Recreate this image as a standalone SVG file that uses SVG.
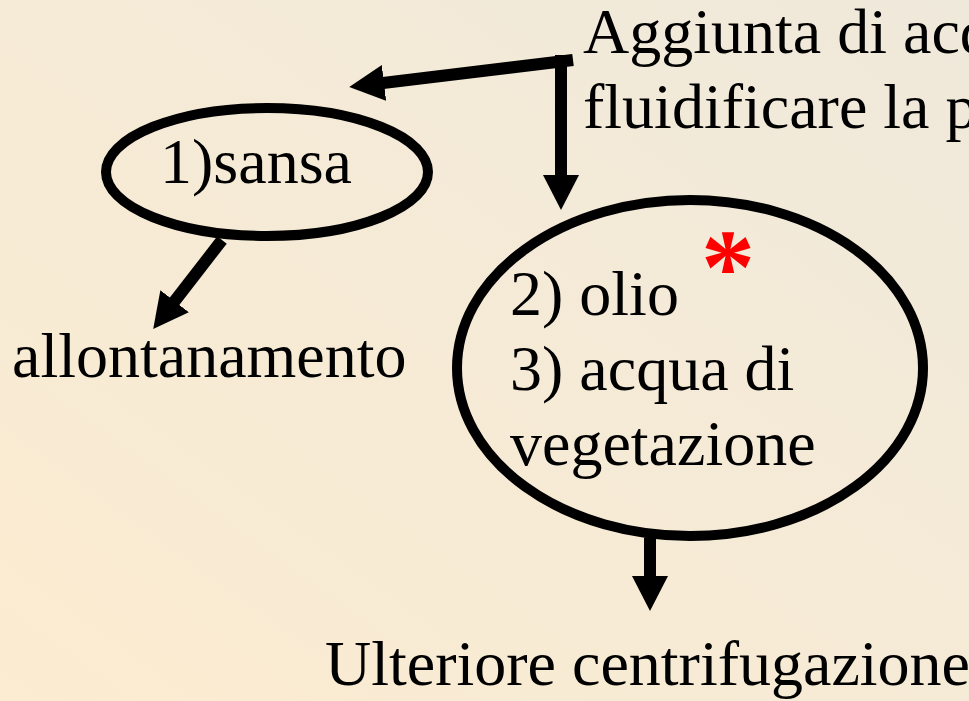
<svg xmlns="http://www.w3.org/2000/svg" width="969" height="701" viewBox="0 0 969 701">
<defs>
<linearGradient id="bg" x1="0" y1="1" x2="1" y2="0">
<stop offset="0" stop-color="#fcecd1"/>
<stop offset="1" stop-color="#efe9db"/>
</linearGradient>
<marker id="ah" markerUnits="userSpaceOnUse" markerWidth="36" markerHeight="38" viewBox="0 0 36 38" refX="1" refY="19" orient="auto">
<path d="M0,1 L35,19 L0,37 z" fill="#000"/>
</marker>
<style>
.t{font-family:"Liberation Serif","Times New Roman",serif;font-size:64px;fill:#000}
.ell{fill:none;stroke:#000;stroke-width:10}
.c{fill:none;stroke:#000;stroke-width:12;marker-end:url(#ah)}
</style>
</defs>
<rect width="969" height="701" fill="url(#bg)"/>
<g id="source">
<text class="t" x="583" y="53">Aggiunta di acqua per</text>
<text class="t" x="583" y="128">fluidificare la pasta</text>
</g>
<g id="sansa">
<ellipse class="ell" cx="267" cy="172" rx="161" ry="64"/>
<text class="t" x="160" y="183">1)sansa</text>
</g>
<g id="olio">
<ellipse class="ell" cx="690" cy="368" rx="233" ry="168"/>
<text class="t" x="510" y="315">2) olio</text>
<text class="t" x="510" y="390">3) acqua di</text>
<text class="t" x="510" y="465">vegetazione</text>
<text x="728" y="304" font-family="Liberation Serif, serif" font-size="108" font-weight="bold" fill="#ff0000" text-anchor="middle">*</text>
</g>
<g id="allontanamento">
<text class="t" x="12" y="377">allontanamento</text>
</g>
<g id="centrifugazione">
<text class="t" x="325" y="685">Ulteriore centrifugazione</text>
</g>
<g id="connectors">
<path class="c" d="M573,60 L383,83"/>
<path class="c" d="M561,55 L561,176"/>
<path class="c" d="M222,240 L174,302"/>
<path class="c" d="M650,538 L650,577"/>
</g>
</svg>
